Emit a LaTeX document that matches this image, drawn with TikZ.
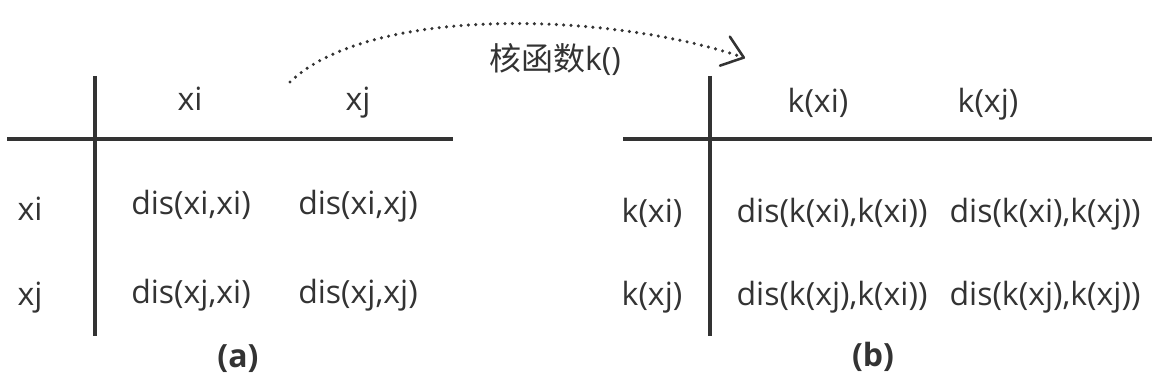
\documentclass[tikz,border=0pt]{standalone}
\usepackage{fontspec}
\setmainfont{Open Sans}
\newfontfamily\cjk{Noto Sans CJK SC}
\usetikzlibrary{arrows.meta}
\definecolor{ink}{HTML}{333333}
\tikzset{
  txt/.style={font=\fontsize{24}{28}\selectfont, text=ink, inner sep=0pt, anchor=base},
  tag/.style={txt, font=\fontsize{24}{28}\selectfont\bfseries},
  rule/.style={draw=ink, line width=2.3pt},
}

\begin{document}
\begin{tikzpicture}[x=0.75pt,y=-0.75pt]
  \useasboundingbox (0,0) rectangle (1152,385);

  % table (a)
  \draw[rule] (7,139) -- (453,139);
  \draw[rule] (95,76) -- (95,336);
  \node[txt] (ha-i) at (190,110) {xi};
  \node[txt] (ha-j) at (358,110) {xj};
  \foreach \rw/\ly/\cy in {i/220/214, j/305/303} {
    \node[txt] (ra-\rw) at (30,\ly) {x\rw};
    \foreach \cl/\cx in {i/191, j/358} {
      \node[txt] (ca-\rw\cl) at (\cx,\cy) {dis(x\rw,x\cl)};
    }
  }
  \node[tag] (lbl-a) at (238,367) {(a)};

  % table (b)
  \draw[rule] (623,139) -- (1152,139);
  \draw[rule] (710,76) -- (710,336);
  \node[txt] (hb-i) at (818,113) {k(xi)};
  \node[txt] (hb-j) at (988,113) {k(xj)};
  \foreach \rw/\ry in {i/222, j/305} {
    \node[txt] (rb-\rw) at (652,\ry) {k(x\rw)};
    \foreach \cl/\cx in {i/832, j/1045} {
      \node[txt] (cb-\rw\cl) at (\cx,\ry) {dis(k(x\rw),k(x\cl))};
    }
  }
  \node[tag] (lbl-b) at (873,366) {(b)};

  % kernel arrow
  \coordinate (src) at (290,82);
  \coordinate (dst) at (745,58);
  \draw[ink, line width=2.6pt, dash pattern=on 0pt off 5.5pt, line cap=round,
        -{Straight Barb[length=15pt, width=23pt, line width=1.9pt, round]}]
    (src) .. controls (370,5) and (610,12) .. (dst);
  \node[txt] (kfun) at (555,70) {{\cjk 核函数}k()};
\end{tikzpicture}
\end{document}
